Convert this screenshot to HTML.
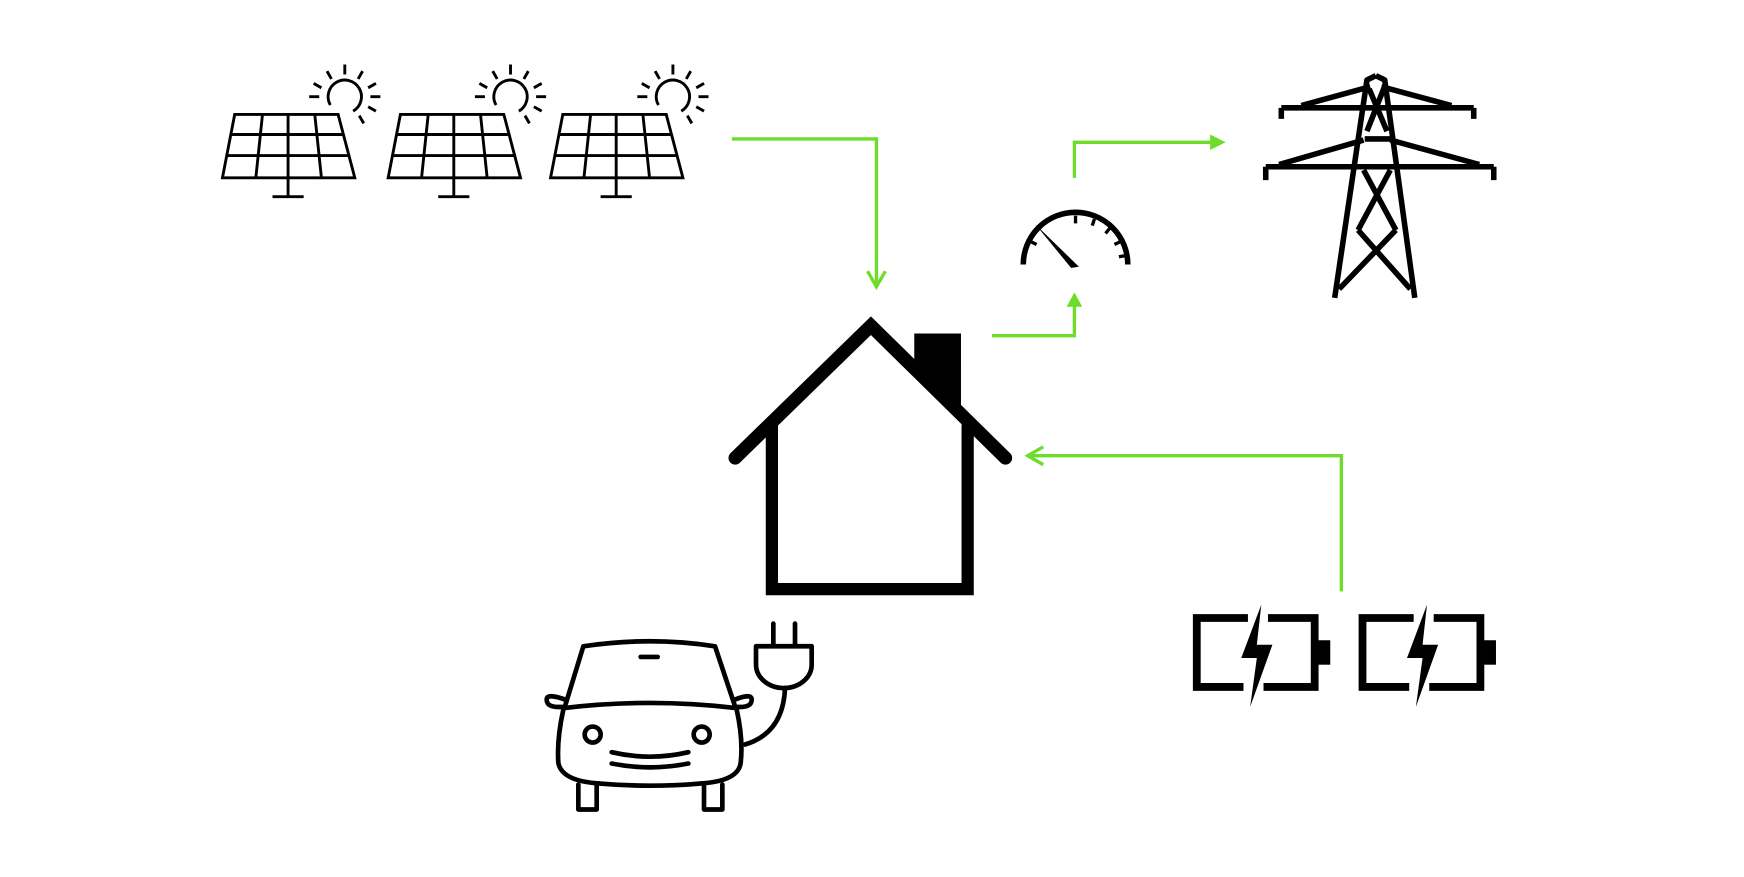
<!DOCTYPE html>
<html><head><meta charset="utf-8"><style>html,body{margin:0;padding:0;background:#fff}svg{display:block}</style></head>
<body>
<svg width="1744" height="877" viewBox="0 0 1568 789" preserveAspectRatio="none" xmlns="http://www.w3.org/2000/svg">
<defs>
<g id="panel" fill="none" stroke="#000" stroke-width="2.6">
  <path d="M211 103 L304 103 L319 160 L200 160 Z"/>
  <path d="M207 121 L309 121 M204 140 L314 140"/>
  <path d="M236 103 L230 160 M259 103 L259 160 M283 103 L289 160"/>
  <path d="M259 160 L259 177 M245 177 L273 177"/>
  <path d="M297 94.5 A15 15 0 1 1 317.5 100"/>
  <g stroke-linecap="butt">
    <path d="M310 58 L310 67 M294 64 L298 71 M326 64 L322 71 M282 75 L289 79 M338 75 L331 79 M278 87 L287 87 M333 87 L342 87 M331 96 L338 100 M323 104 L327 111"/>
  </g>
</g>
<g id="batt">
  <path d="M1122 556 L1076 556 L1076 618 L1118 618 M1140 556 L1182 556 L1182 618 L1136 618" fill="none" stroke="#000" stroke-width="7"/>
  <rect x="1183" y="576" width="13" height="22" fill="#000"/>
  <path d="M1134 544 L1116 592 L1130 592 L1124 636 L1144 580 L1130 580 Z" fill="#000"/>
</g>
</defs>

<use href="#panel"/>
<use href="#panel" transform="translate(149 0)"/>
<use href="#panel" transform="translate(295 0)"/>

<g fill="none" stroke="#6edc2a" stroke-width="3">
  <path d="M658 125 L788 125 L788 256"/>
  <path d="M780 244 L788 258 L796 244"/>
  <path d="M892 302 L966 302 L966 266"/>
  <path d="M966 160 L966 128 L1096 128"/>
  <path d="M1206 532 L1206 410 L926 410"/>
  <path d="M938 402 L924 410 L938 418"/>
</g>
<g fill="#6edc2a">
  <path d="M959 276 L966 263 L973 276 Z"/>
  <path d="M1088 121 L1102 128 L1088 135 Z"/>
</g>

<!-- house -->
<path d="M822 300 L864 300 L864 373 L822 331 Z" fill="#000"/>
<path d="M694 382 L694 530 L870 530 L870 382" fill="none" stroke="#000" stroke-width="11"/>
<path d="M661 412 L783 293 L904 412" fill="none" stroke="#000" stroke-width="12" stroke-linecap="round" stroke-linejoin="miter"/>

<!-- meter -->
<path d="M920 238 A47 47 0 0 1 1014 238" fill="none" stroke="#000" stroke-width="5"/>
<g stroke="#000" stroke-width="3">
  <path d="M967 194 L967 201 M984 197 L982 203 M998 205 L994 210 M1008 217 L1002 220 M1012 230 L1006 231 M926 217 L932 220"/>
</g>
<path d="M931 202 L966 236 L970 240 L963 241 Z" fill="#000"/>

<!-- tower -->
<g fill="none" stroke="#000" stroke-width="5" stroke-linejoin="round">
  <path d="M1237 68 L1229 72 L1200 268 M1237 68 L1245 72 L1272 268"/>
  <path d="M1152 97 L1325 97 M1152 97 L1152 107 M1325 97 L1325 107 M1170 95 L1232 78 M1305 95 L1242 78"/>
  <path d="M1138 150 L1343 150 M1138 150 L1138 162 M1343 150 L1343 162 M1150 148 L1226 126 M1330 148 L1250 126"/>
  <path d="M1231 80 L1247 118 M1244 80 L1229 118 M1227 125 L1251 125"/>
  <path d="M1226 153 L1255 207 M1250 153 L1221 207 M1221 207 L1268 260 M1255 207 L1204 260"/>
</g>

<!-- car (zoom coords) -->
<g transform="scale(0.8991) translate(500 600) scale(0.33333)" fill="none" stroke="#000" stroke-width="14" stroke-linecap="round" stroke-linejoin="round">
  <path d="M195 320 L250 140 Q450 110 645 140 L705 320"/>
  <path d="M195 325 Q450 295 705 325"/>
  <path d="M195 300 Q140 280 140 300 Q140 325 185 322 M705 300 Q755 280 755 300 Q755 325 712 322"/>
  <path d="M190 330 Q170 420 175 490 Q185 545 300 552 Q450 565 600 552 Q715 545 722 490 Q730 420 710 330"/>
  <path d="M235 555 L235 630 L290 630 L290 558"/>
  <path d="M612 558 L612 630 L667 630 L667 555"/>
  <circle cx="278" cy="405" r="24"/><circle cx="605" cy="405" r="24"/>
  <path d="M335 458 Q450 485 565 458 M335 492 Q450 515 565 492"/>
  <path d="M422 172 L473 172"/>
  <path d="M735 435 Q850 400 855 265"/>
  <path d="M768 140 L935 140 L935 195 A83 70 0 0 1 768 195 Z"/>
  <path d="M820 72 L820 140 M885 72 L885 140"/>
</g>

<!-- batteries -->
<use href="#batt"/>
<use href="#batt" transform="translate(149 0)"/>
</svg>
</body></html>
